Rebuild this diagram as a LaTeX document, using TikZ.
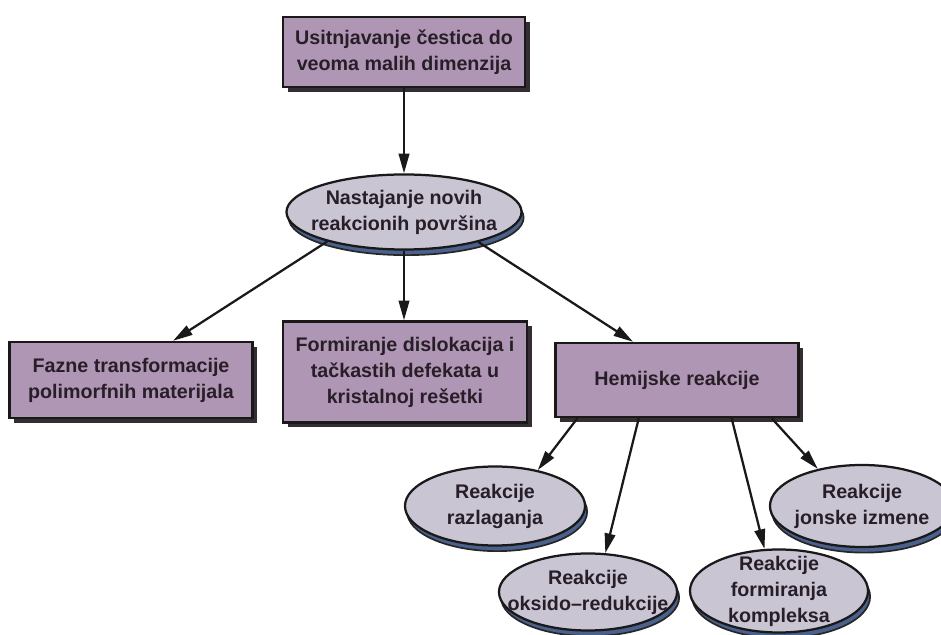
\documentclass[tikz,border=0pt]{standalone}
\usepackage{fontspec}
\setmainfont{Liberation Sans}
\usepackage{xcolor}
\usetikzlibrary{arrows.meta,shapes.geometric,shadows}
\definecolor{boxpurple}{RGB}{176,150,181}
\definecolor{boxshadow}{RGB}{52,46,52}
\definecolor{ellgray}{RGB}{201,197,211}
\definecolor{ellshadow}{RGB}{74,97,142}
\definecolor{textdark}{RGB}{40,30,40}

\begin{document}
\begin{tikzpicture}[x=0.025cm,y=-0.025cm,>={Triangle[length=14pt,width=7.5pt]}]
\tikzstyle{txt}=[align=center,text=textdark,font=\bfseries\fontsize{14}{18.5}\selectfont]
\tikzstyle{box}=[txt,rectangle,draw=black!90,line width=1.7pt,fill=boxpurple,inner sep=0pt,
  drop shadow={shadow xshift=3.5pt,shadow yshift=-3.5pt,fill=boxshadow,opacity=1}]
\tikzstyle{ell}=[ellipse,draw=black!90,line width=1.6pt,fill=ellgray,inner sep=0pt,
  drop shadow={shadow xshift=1.5pt,shadow yshift=-4pt,fill=ellshadow,draw=black!85,line width=1.2pt,opacity=1}]
\tikzstyle{arr}=[->,line width=1.6pt,black!90]
\useasboundingbox (0,0) rectangle (941,635);
% boxes
\node[box,minimum width=6.05cm,minimum height=1.75cm] (usit) at (404,52) {Usitnjavanje čestica do\\veoma malih dimenzija};
\node[box,minimum width=6.075cm,minimum height=1.9cm] (fazne) at (131,380) {Fazne transformacije\\polimorfnih materijala};
\node[box,minimum width=6.1cm,minimum height=2.525cm] (form) at (405,372) {Formiranje dislokacija i\\tačkastih defekata u\\kristalnoj rešetki};
\node[box,minimum width=6.075cm,minimum height=1.85cm] (hem) at (677,380) {Hemijske reakcije};
% ellipses
\node[ell,minimum width=5.875cm,minimum height=1.875cm] (nast) at (404,212) {};
\node[txt] (nastt) at (nast.center) {Nastajanje novih\\reakcionih površina};
\node[ell,minimum width=4.5cm,minimum height=1.975cm] (raz) at (495,506) {};
\node[txt] (razt) at (raz.center) {Reakcije\\razlaganja};
\node[ell,minimum width=4.45cm,minimum height=1.925cm] (oks) at (588,592) {};
\node[txt] (okst) at (oks.center) {Reakcije\\oksido--redukcije};
\node[ell,minimum width=4.45cm,minimum height=2.075cm] (kom) at (779,591) {};
\node[txt] (komt) at (kom.center) {Reakcije\\formiranja\\kompleksa};
\node[ell,minimum width=4.6cm,minimum height=2.05cm] (jon) at (862,506) {};
\node[txt] (jont) at (jon.center) {Reakcije\\jonske izmene};
% arrows
\draw[arr] (usit.south) -- (nast.north);
\draw[arr] (nast.201) -- (fazne.43);
\draw[arr] (nast.south) -- (nast.south |- form.north);
\draw[arr] (nast.-22) -- (hem.139);
\draw[arr] (hem.201) -- (raz.40);
\draw[arr] (hem.225) -- (oks.66);
\draw[arr] (hem.-35) -- (kom.109);
\draw[arr] (hem.-22) -- (jon.140);
\end{tikzpicture}
\end{document}
